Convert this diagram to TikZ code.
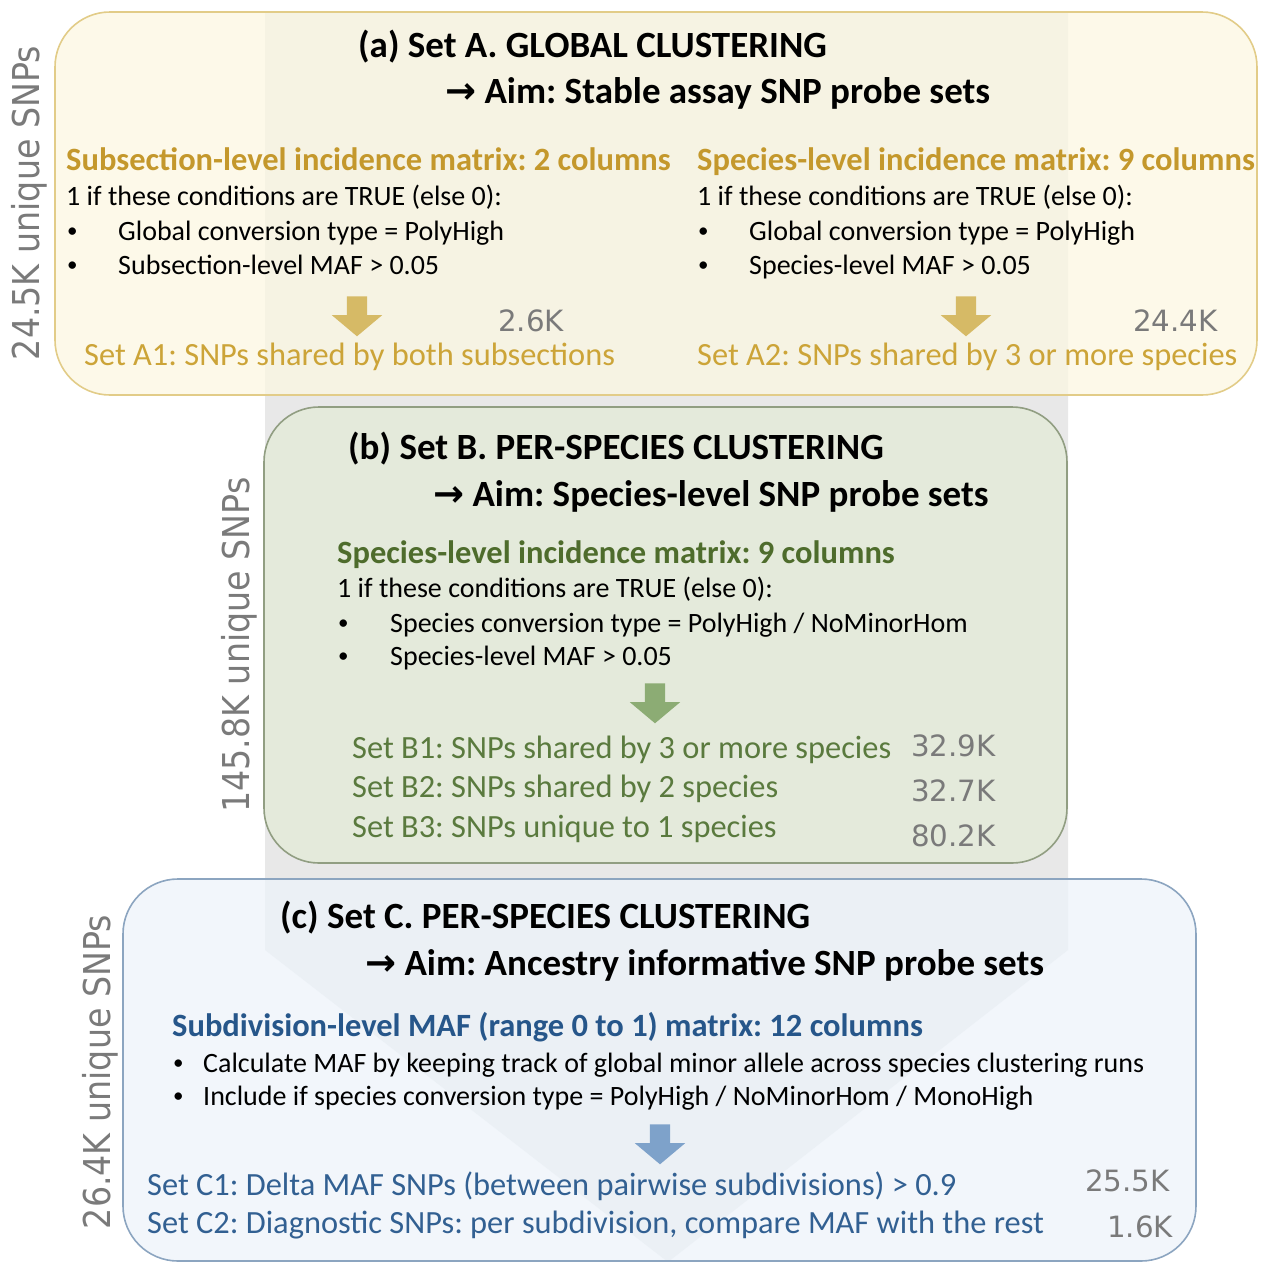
\documentclass[tikz,border=0pt]{standalone}
\usepackage{fontspec}
\usetikzlibrary{shapes.arrows}

\setmainfont{Carlito}
\newfontfamily\sidefont{DejaVu Sans}[FakeStretch=0.9]
\newfontfamily\countfont{DejaVu Sans}
\newfontfamily\symfont{DejaVu Sans}
\newcommand{\aim}{{\symfont\bfseries →}\ Aim:}
\newcommand{\px}[1]{\fontsize{#1}{#1}\selectfont}
\frenchspacing

\definecolor{bandgray}{RGB}{232,232,232}
\definecolor{fillA}{RGB}{252,247,226}
\definecolor{edgeA}{RGB}{226,204,136}
\definecolor{headA}{RGB}{196,152,44}
\definecolor{setA}{RGB}{204,164,56}
\definecolor{arrowA}{RGB}{214,186,102}
\definecolor{fillB}{RGB}{227,235,215}
\definecolor{edgeB}{RGB}{145,158,130}
\definecolor{headB}{RGB}{78,108,44}
\definecolor{setB}{RGB}{90,122,62}
\definecolor{arrowB}{RGB}{140,172,116}
\definecolor{fillC}{RGB}{237,243,250}
\definecolor{edgeC}{RGB}{140,165,192}
\definecolor{headC}{RGB}{38,86,138}
\definecolor{setC}{RGB}{50,96,146}
\definecolor{arrowC}{RGB}{126,162,202}
\definecolor{countgray}{RGB}{122,122,122}

\tikzset{
  panel/.style={rounded corners=55pt, line width=1.6pt, fill opacity=0.75},
  txt/.style={anchor=base west, inner sep=0pt},
  title/.style={txt, font=\bfseries\px{37}},
  head/.style={txt, font=\bfseries\px{32.5}},
  body/.style={txt, font=\px{28}},
  bullet/.style={txt, font=\px{21}, yshift=2.5pt},
  setline/.style={txt, font=\px{32.4}},
  count/.style={txt, font=\countfont\px{29.3}, text=countgray},
  side/.style={inner sep=0pt, rotate=90, font=\sidefont\px{37}, text=countgray},
  down/.style={single arrow, shape border rotate=270, draw=none, inner sep=10pt,
    minimum height=40pt, single arrow head extend=15pt, single arrow tip angle=100}
}

\begin{document}
\begin{tikzpicture}[x=1pt, y=-1pt]
  \useasboundingbox (0,0) rectangle (1261,1262);

  % grey funnel behind the three panels
  \fill[bandgray] (265,12) -- (1068,12) -- (1068,950) -- (668,1262) -- (265,950) -- cycle;

  \draw[panel, draw=edgeA, fill=fillA] (55,12) rectangle (1257,395);
  \draw[panel, draw=edgeB, fill=fillB] (264,407) rectangle (1067,863);
  \draw[panel, draw=edgeC, fill=fillC] (123,879) rectangle (1196,1261);

  % (a) global clustering
  \node[title] (titleA) at (358,57) {(a) Set A. GLOBAL CLUSTERING};
  \node[title] (aimA) at (445,103) {\aim{} Stable assay SNP probe sets};
  \node[head, text=headA] (matA1) at (66,170) {Subsection-level incidence matrix: 2 columns};
  \node[body] (ifA1) at (66,205) {1 if these conditions are TRUE (else 0):};
  \node[bullet] (dotA11) at (67,240) {\textbullet};
  \node[body] (condA11) at (118,240) {Global conversion type = PolyHigh};
  \node[bullet] (dotA12) at (67,274) {\textbullet};
  \node[body] (condA12) at (118,274) {Subsection-level MAF > 0.05};
  \node[down, fill=arrowA] (arrA1) at (357,312) {};
  \node[count] (nA1) at (498,331) {2.6K};
  \node[setline, text=setA] (setA1) at (84,365) {Set A1: SNPs shared by both subsections};

  \node[head, text=headA] (matA2) at (697,170) {Species-level incidence matrix: 9 columns};
  \node[body] (ifA2) at (697,205) {1 if these conditions are TRUE (else 0):};
  \node[bullet] (dotA21) at (698,240) {\textbullet};
  \node[body] (condA21) at (749,240) {Global conversion type = PolyHigh};
  \node[bullet] (dotA22) at (698,274) {\textbullet};
  \node[body] (condA22) at (749,274) {Species-level MAF > 0.05};
  \node[down, fill=arrowA] (arrA2) at (966,312) {};
  \node[count] (nA2) at (1133,331) {24.4K};
  \node[setline, text=setA] (setA2) at (697,365) {Set A2: SNPs shared by 3 or more species};

  \node[side] (sideA) at (29,203) {24.5K unique SNPs};

  % (b) per-species clustering
  \node[title] (titleB) at (348,459) {(b) Set B. PER-SPECIES CLUSTERING};
  \node[title] (aimB) at (433,506) {\aim{} Species-level SNP probe sets};
  \node[head, text=headB] (matB) at (337,563) {Species-level incidence matrix: 9 columns};
  \node[body] (ifB) at (337,597) {1 if these conditions are TRUE (else 0):};
  \node[bullet] (dotB1) at (338,632) {\textbullet};
  \node[body] (condB1) at (390,632) {Species conversion type = PolyHigh / NoMinorHom};
  \node[bullet] (dotB2) at (338,665) {\textbullet};
  \node[body] (condB2) at (390,665) {Species-level MAF > 0.05};
  \node[down, fill=arrowB] (arrB) at (655,699) {};
  \node[setline, text=setB] (setB1) at (352,758) {Set B1: SNPs shared by 3 or more species};
  \node[setline, text=setB] (setB2) at (352,797) {Set B2: SNPs shared by 2 species};
  \node[setline, text=setB] (setB3) at (352,837) {Set B3: SNPs unique to 1 species};
  \node[count] (nB1) at (911,756) {32.9K};
  \node[count] (nB2) at (911,801) {32.7K};
  \node[count] (nB3) at (911,846) {80.2K};

  \node[side] (sideB) at (239,645) {145.8K unique SNPs};

  % (c) ancestry informative sets
  \node[title] (titleC) at (280,928) {(c) Set C. PER-SPECIES CLUSTERING};
  \node[title] (aimC) at (365,975) {\aim{} Ancestry informative SNP probe sets};
  \node[head, text=headC] (matC) at (172,1036) {Subdivision-level MAF (range 0 to 1) matrix: 12 columns};
  \node[bullet] (dotC1) at (173,1072) {\textbullet};
  \node[body] (condC1) at (203,1072) {Calculate MAF by keeping track of global minor allele across species clustering runs};
  \node[bullet] (dotC2) at (173,1105) {\textbullet};
  \node[body] (condC2) at (203,1105) {Include if species conversion type = PolyHigh / NoMinorHom / MonoHigh};
  \node[down, fill=arrowC] (arrC) at (660,1140) {};
  \node[setline, text=setC] (setC1) at (147,1195) {Set C1: Delta MAF SNPs (between pairwise subdivisions) > 0.9};
  \node[setline, text=setC] (setC2) at (147,1233) {Set C2: Diagnostic SNPs: per subdivision, compare MAF with the rest};
  \node[count] (nC1) at (1085,1191) {25.5K};
  \node[count] (nC2) at (1107,1237) {1.6K};

  \node[side] (sideC) at (100,1072) {26.4K unique SNPs};
\end{tikzpicture}
\end{document}
